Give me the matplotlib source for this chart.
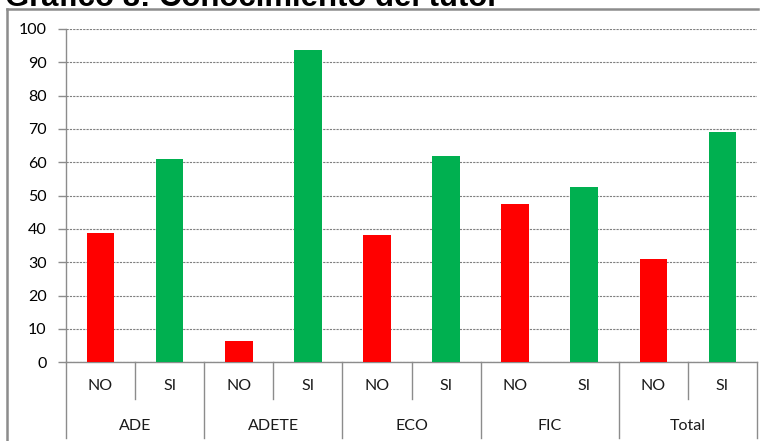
import matplotlib
matplotlib.use("Agg")
import matplotlib.pyplot as plt
import matplotlib.transforms as mtrans
from matplotlib.lines import Line2D

groups = ["ADE", "ADETE", "ECO", "FIC", "Total"]
answers = ["NO", "SI"]
no_values = [38.9, 6.3, 38.2, 47.4, 31.0]
si_values = [61.1, 93.7, 61.8, 52.6, 69.0]
yticks = [0, 10, 20, 30, 40, 50, 60, 70, 80, 90, 100]
title = "Gráfico 8: Conocimiento del tutor"

plt.rcParams['font.family'] = ['Lato', 'DejaVu Sans']

W, H = 767, 441
fig = plt.figure(figsize=(W / 100, H / 100), dpi=100)

def fx(px):
    return px / W

def fy(py):
    return 1 - py / H

# outer frame (top and left visible)
fig.add_artist(Line2D([fx(7), fx(758)], [fy(9), fy(9)], color="#8c8c8c", lw=1.8))
fig.add_artist(Line2D([fx(7), fx(7)], [fy(9), 0], color="#8c8c8c", lw=1.8))

# title (cut at top, as in the reference)
fig.text(fx(5), fy(6), title, fontsize=22.4, fontweight="bold",
         family="Liberation Sans", ha="left", va="baseline", color="black")

ax = fig.add_axes([fx(66), fy(362.3), fx(757) - fx(66), fy(29) - fy(362.3)])

xs = []
vals = []
cols = []
for i, g in enumerate(groups):
    xs += [2 * i, 2 * i + 1]
    vals += [no_values[i], si_values[i]]
    cols += ["#FF0000", "#00B050"]

ax.bar(xs, vals, width=0.4, color=cols, zorder=3)
ax.set_xlim(-0.5, len(xs) - 0.5)
ax.set_ylim(0, 100)
ax.set_yticks(yticks)
ax.set_yticklabels([str(t) for t in yticks], fontsize=11.5)
ax.tick_params(axis="y", length=6, width=1, color="#8c8c8c", pad=8)
ax.set_xticks([])
ax.yaxis.grid(True, linestyle=(0, (2, 1)), color="#7f7f7f", lw=0.8, zorder=0)
for s in ["top", "right"]:
    ax.spines[s].set_visible(False)
ax.spines["left"].set_color("#8c8c8c")
ax.spines["bottom"].set_color("#8c8c8c")
ax.spines["left"].set_linewidth(1)
ax.spines["bottom"].set_linewidth(1)

trans = mtrans.blended_transform_factory(ax.transData, ax.transAxes)
h_ax = (fy(29) - fy(362.3)) * H  # axes height in px

def ay(py):
    return (362.3 - py) / h_ax

# category labels
for x in xs:
    ax.text(x, ay(386), answers[x % 2], transform=trans, ha="center", va="center",
            fontsize=11.5, color="#1a1a1a")
for i, g in enumerate(groups):
    ax.text(2 * i + 0.5, ay(426), g, transform=trans, ha="center", va="center",
            fontsize=11.5, color="#1a1a1a")

# dividers
for i in range(len(groups) + 1):
    xb = 2 * i - 0.5
    ax.plot([xb, xb], [0, ay(438)], transform=trans, color="#8c8c8c", lw=1, clip_on=False)
for i, g in enumerate(groups):
    if g == "FIC":
        continue
    xb = 2 * i + 0.5
    ax.plot([xb, xb], [0, ay(399)], transform=trans, color="#8c8c8c", lw=1, clip_on=False)

fig.savefig("out.png", dpi=100)
